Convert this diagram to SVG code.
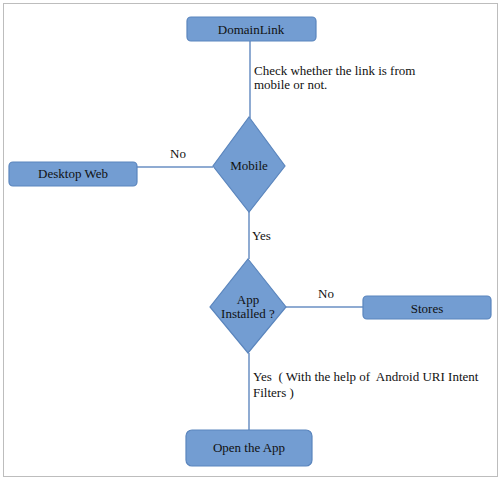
<svg xmlns="http://www.w3.org/2000/svg" width="504" height="482" viewBox="0 0 504 482">
<style>
.box{fill:#739DD2;stroke:#5A85BD;stroke-width:1.2}
.lbl{font-family:"Liberation Serif","Times New Roman",serif;font-size:13px;fill:#111}
.c{text-anchor:middle}
.ln{stroke:#6A8FC3;stroke-width:1.5;fill:none}
</style>
<rect x="3.5" y="3.5" width="494" height="473" fill="#fff" stroke="#BDBDBD" stroke-width="1"/>
<g id="connectors">
<line class="ln" x1="250" y1="41" x2="250" y2="118"/>
<line class="ln" x1="137" y1="167" x2="213" y2="167"/>
<line class="ln" x1="249" y1="212" x2="249" y2="259"/>
<line class="ln" x1="286" y1="307" x2="363" y2="307"/>
<line class="ln" x1="249" y1="353" x2="249" y2="430"/>
<text class="lbl" x="254" y="75">Check whether the link is from</text>
<text class="lbl" x="254" y="89">mobile or not.</text>
<text class="lbl c" x="178" y="158">No</text>
<text class="lbl" x="252" y="240">Yes</text>
<text class="lbl c" x="326" y="298">No</text>
<text class="lbl" x="253" y="381" xml:space="preserve">Yes  ( With the help of  Android URI Intent</text>
<text class="lbl" x="253" y="397">Filters )</text>
</g>
<g id="domainlink">
<rect class="box" x="187" y="17" width="129" height="24" rx="4"/>
<text class="lbl c" x="251" y="34">DomainLink</text>
</g>
<g id="mobile">
<polygon class="box" points="249,117 285,166 249,212 213,166"/>
<text class="lbl c" x="249" y="170">Mobile</text>
</g>
<g id="desktop">
<rect class="box" x="9" y="162" width="128" height="24" rx="4"/>
<text class="lbl c" x="73" y="178">Desktop Web</text>
</g>
<g id="appinstalled">
<polygon class="box" points="248,259 286,307 248,353 210,307"/>
<text class="lbl c" x="248" y="304">App</text>
<text class="lbl c" x="248" y="318">Installed ?</text>
</g>
<g id="stores">
<rect class="box" x="363" y="296" width="128" height="23" rx="4"/>
<text class="lbl c" x="427" y="313">Stores</text>
</g>
<g id="openapp">
<rect class="box" x="186" y="430" width="126" height="36" rx="6"/>
<text class="lbl c" x="249" y="452">Open the App</text>
</g>
</svg>
